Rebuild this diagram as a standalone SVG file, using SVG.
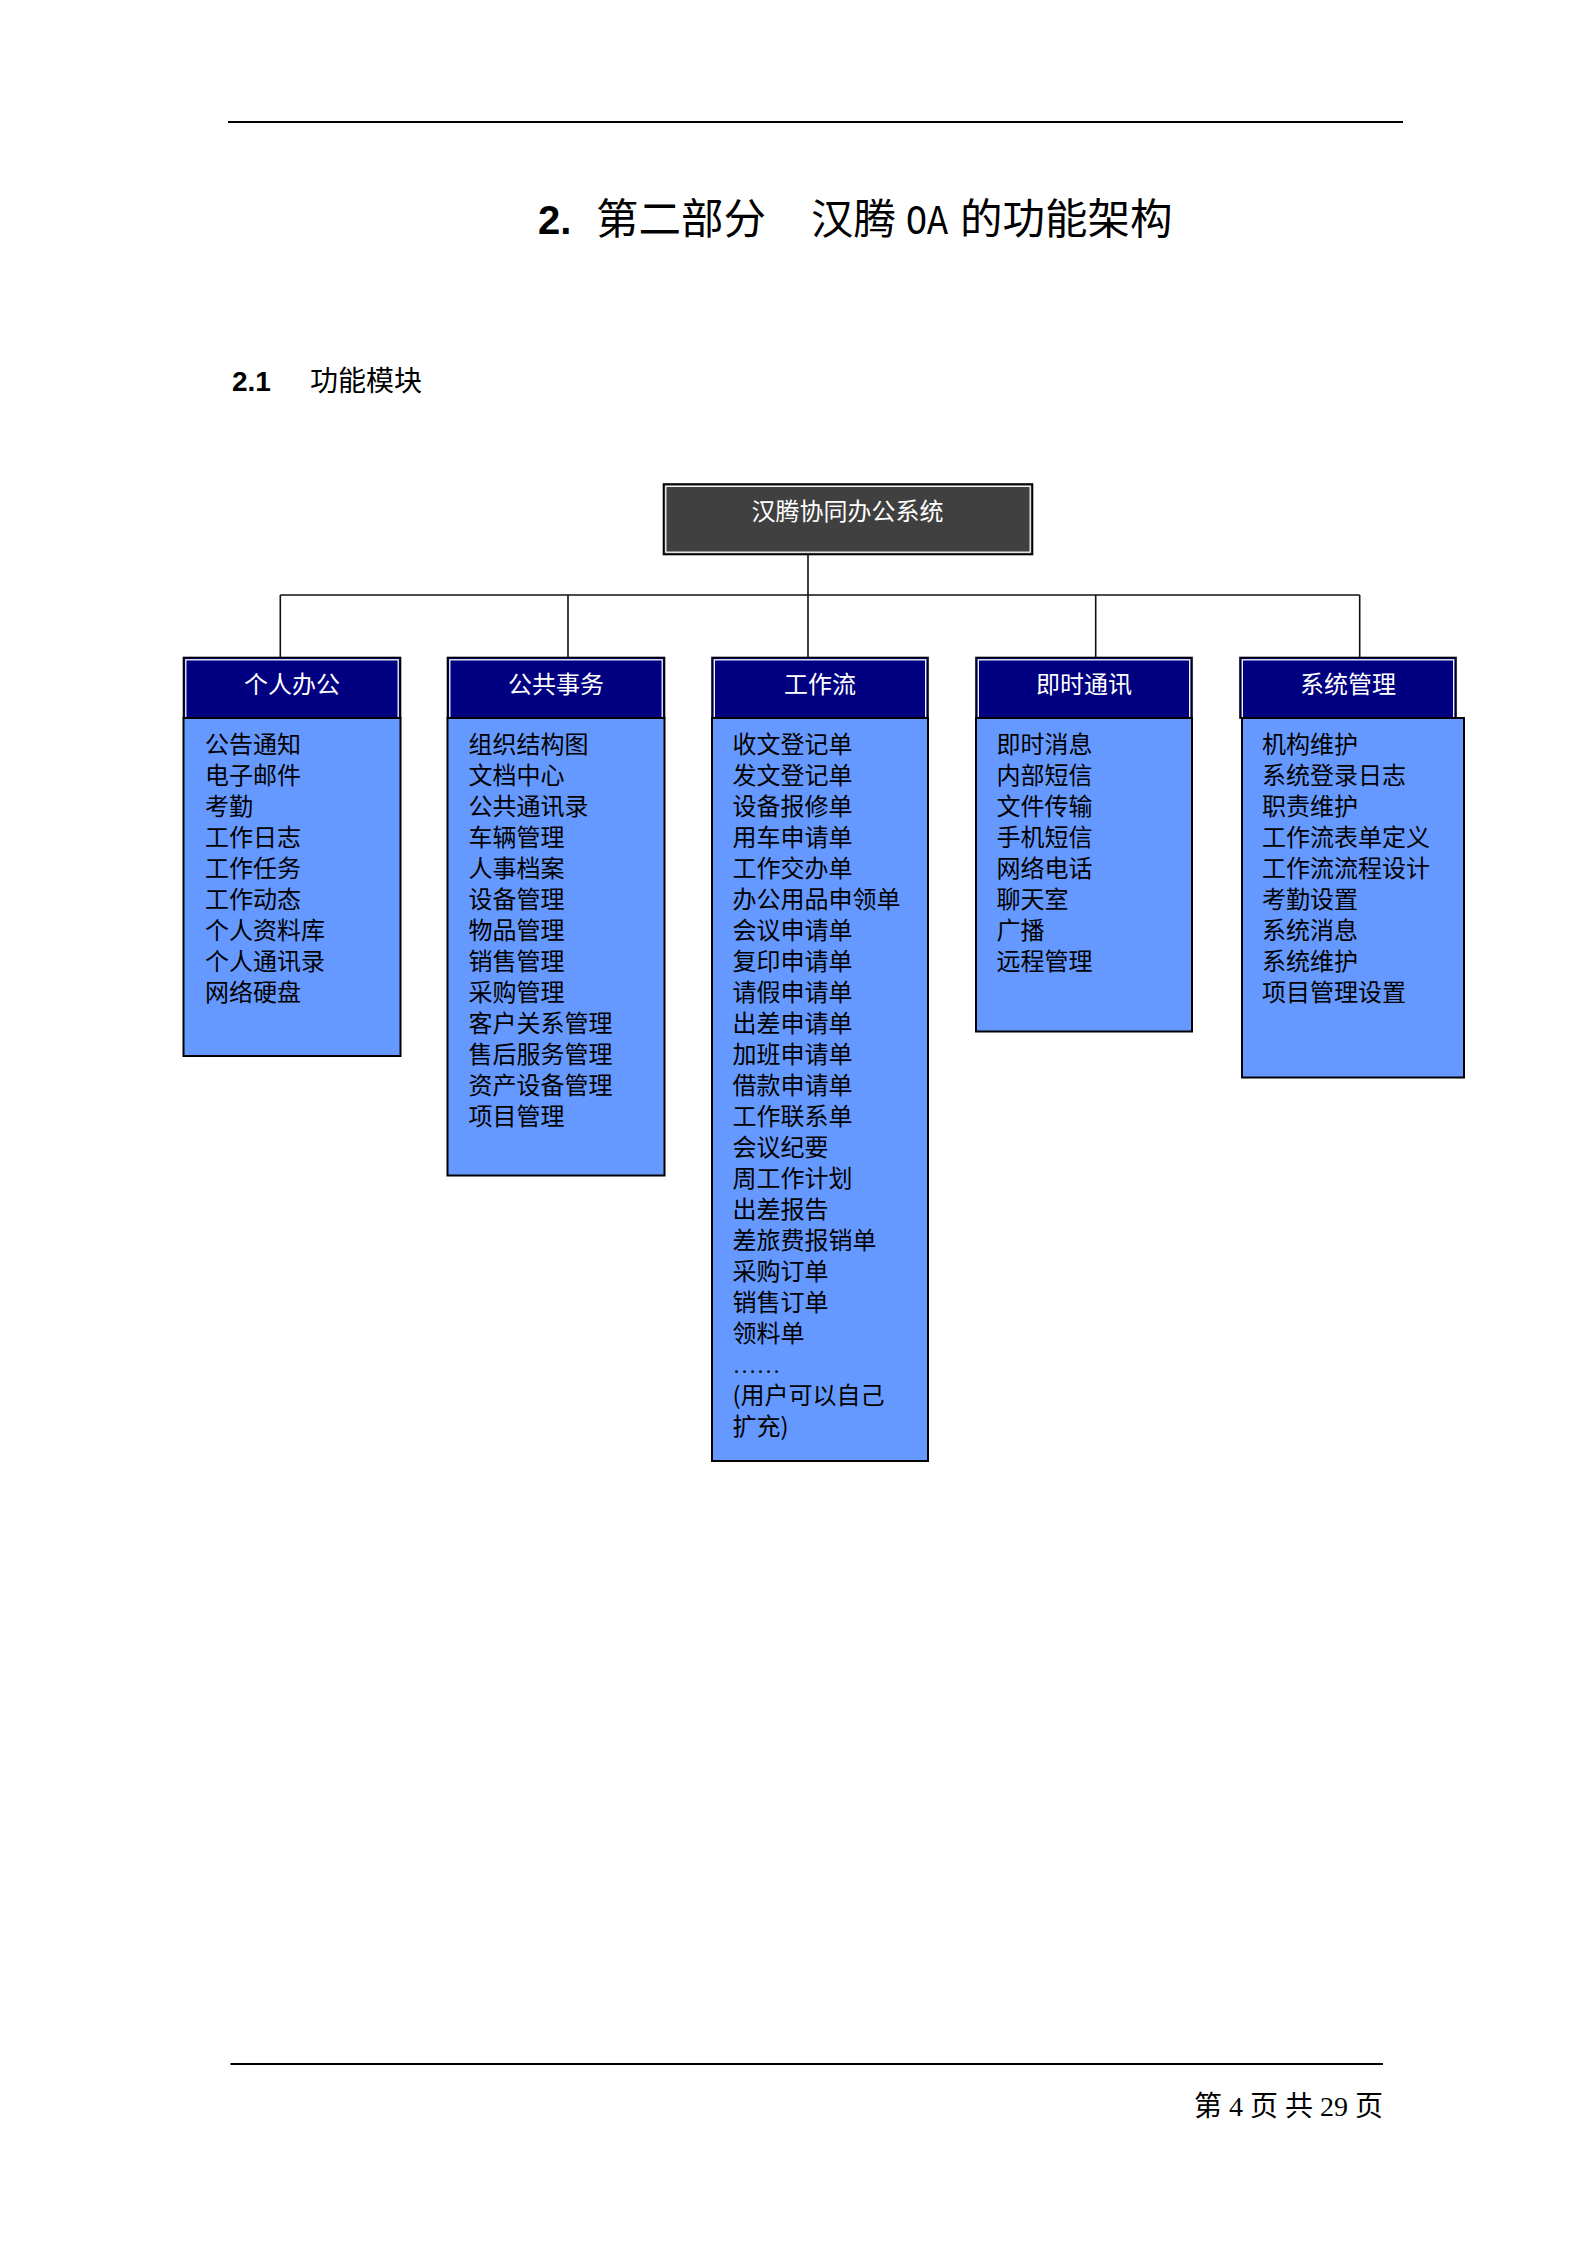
<svg xmlns="http://www.w3.org/2000/svg" width="1587" height="2245" viewBox="0 0 1587 2245">
<style>
.cjk{font-family:"Noto Sans CJK SC","Noto Sans",sans-serif;}
.hd{font-family:"Noto Sans CJK SC",sans-serif;font-size:24px;fill:#ffffff;text-anchor:middle;}
.item{font-family:"Noto Sans CJK SC",sans-serif;font-size:24px;fill:#000000;}
.hbox{fill:#000080;stroke:#000000;stroke-width:1.6;}
.hin{fill:none;stroke:#ffffff;stroke-width:1.3;}
.body{fill:#6699FF;stroke:#000000;stroke-width:2;}
.conn{stroke:#111111;stroke-width:1.6;fill:none;}
.rule{stroke:#000000;stroke-width:2;}
</style>

<g id="page-header">
<line class="rule" x1="228" y1="122" x2="1403" y2="122"/>
<text x="538" y="234" font-family="'Liberation Sans',sans-serif" font-weight="bold" font-size="40">2.</text>
<text class="cjk" x="596" y="234" font-size="42.5">第二部分</text>
<text class="cjk" x="811" y="234" font-size="42.5">汉腾</text>
<text x="906" y="234" font-family="'Liberation Mono',monospace" font-size="42" textLength="42" lengthAdjust="spacingAndGlyphs">OA</text>
<text class="cjk" x="960" y="234" font-size="42.5">的功能架构</text>
<text x="232" y="391" font-family="'Liberation Sans',sans-serif" font-weight="bold" font-size="28">2.1</text>
<text class="cjk" x="310" y="391" font-size="28">功能模块</text>
</g>

<g id="connectors">
<line class="conn" x1="808" y1="554" x2="808" y2="657.5"/>
<line class="conn" x1="280.3" y1="595" x2="1359.7" y2="595"/>
<line class="conn" x1="280.3" y1="595" x2="280.3" y2="657.5"/>
<line class="conn" x1="568" y1="595" x2="568" y2="657.5"/>
<line class="conn" x1="1095.7" y1="595" x2="1095.7" y2="657.5"/>
<line class="conn" x1="1359.7" y1="595" x2="1359.7" y2="657.5"/>
</g>

<g id="root">
<rect x="663.5" y="484" width="369" height="70.5" fill="#404040" stroke="#000000" stroke-width="1.6"/>
<rect x="665.8" y="486.3" width="364.4" height="65.9" fill="none" stroke="#ffffff" stroke-width="1.3"/>
<text class="hd" x="847.5" y="519.5">汉腾协同办公系统</text>
</g>

<g id="node-personal">
<rect class="hbox" x="183.5" y="657.5" width="217" height="60.5"/>
<rect class="hin" x="185.8" y="659.8" width="212.4" height="58"/>
<rect class="body" x="183.5" y="718" width="217" height="338"/>
<text class="hd" x="292" y="692.5">个人办公</text>
<text class="item" y="753"><tspan x="205">公告通知</tspan><tspan x="205" dy="31">电子邮件</tspan><tspan x="205" dy="31">考勤</tspan><tspan x="205" dy="31">工作日志</tspan><tspan x="205" dy="31">工作任务</tspan><tspan x="205" dy="31">工作动态</tspan><tspan x="205" dy="31">个人资料库</tspan><tspan x="205" dy="31">个人通讯录</tspan><tspan x="205" dy="31">网络硬盘</tspan></text>
</g>

<g id="node-public">
<rect class="hbox" x="447.5" y="657.5" width="217" height="60.5"/>
<rect class="hin" x="449.8" y="659.8" width="212.4" height="58"/>
<rect class="body" x="447.5" y="718" width="217" height="457.5"/>
<text class="hd" x="556" y="692.5">公共事务</text>
<text class="item" y="753"><tspan x="468.5">组织结构图</tspan><tspan x="468.5" dy="31">文档中心</tspan><tspan x="468.5" dy="31">公共通讯录</tspan><tspan x="468.5" dy="31">车辆管理</tspan><tspan x="468.5" dy="31">人事档案</tspan><tspan x="468.5" dy="31">设备管理</tspan><tspan x="468.5" dy="31">物品管理</tspan><tspan x="468.5" dy="31">销售管理</tspan><tspan x="468.5" dy="31">采购管理</tspan><tspan x="468.5" dy="31">客户关系管理</tspan><tspan x="468.5" dy="31">售后服务管理</tspan><tspan x="468.5" dy="31">资产设备管理</tspan><tspan x="468.5" dy="31">项目管理</tspan></text>
</g>

<g id="node-workflow">
<rect class="hbox" x="712" y="657.5" width="216" height="60.5"/>
<rect class="hin" x="714.3" y="659.8" width="211.4" height="58"/>
<rect class="body" x="712" y="718" width="216" height="743"/>
<text class="hd" x="820" y="692.5">工作流</text>
<text class="item" y="753"><tspan x="732.5">收文登记单</tspan><tspan x="732.5" dy="31">发文登记单</tspan><tspan x="732.5" dy="31">设备报修单</tspan><tspan x="732.5" dy="31">用车申请单</tspan><tspan x="732.5" dy="31">工作交办单</tspan><tspan x="732.5" dy="31">办公用品申领单</tspan><tspan x="732.5" dy="31">会议申请单</tspan><tspan x="732.5" dy="31">复印申请单</tspan><tspan x="732.5" dy="31">请假申请单</tspan><tspan x="732.5" dy="31">出差申请单</tspan><tspan x="732.5" dy="31">加班申请单</tspan><tspan x="732.5" dy="31">借款申请单</tspan><tspan x="732.5" dy="31">工作联系单</tspan><tspan x="732.5" dy="31">会议纪要</tspan><tspan x="732.5" dy="31">周工作计划</tspan><tspan x="732.5" dy="31">出差报告</tspan><tspan x="732.5" dy="31">差旅费报销单</tspan><tspan x="732.5" dy="31">采购订单</tspan><tspan x="732.5" dy="31">销售订单</tspan><tspan x="732.5" dy="31">领料单</tspan><tspan x="732.5" dy="31" font-family="'Liberation Serif',serif">……</tspan><tspan x="732.5" dy="31">(用户可以自己</tspan><tspan x="732.5" dy="31">扩充)</tspan></text>
</g>

<g id="node-im">
<rect class="hbox" x="976" y="657.5" width="216" height="60.5"/>
<rect class="hin" x="978.3" y="659.8" width="211.4" height="58"/>
<rect class="body" x="976" y="718" width="216" height="313.5"/>
<text class="hd" x="1084" y="692.5">即时通讯</text>
<text class="item" y="753"><tspan x="996.5">即时消息</tspan><tspan x="996.5" dy="31">内部短信</tspan><tspan x="996.5" dy="31">文件传输</tspan><tspan x="996.5" dy="31">手机短信</tspan><tspan x="996.5" dy="31">网络电话</tspan><tspan x="996.5" dy="31">聊天室</tspan><tspan x="996.5" dy="31">广播</tspan><tspan x="996.5" dy="31">远程管理</tspan></text>
</g>

<g id="node-sysadmin">
<rect class="hbox" x="1240" y="657.5" width="216" height="60.5"/>
<rect class="hin" x="1242.3" y="659.8" width="211.4" height="58"/>
<rect class="body" x="1242" y="718" width="222" height="359.5"/>
<text class="hd" x="1348" y="692.5">系统管理</text>
<text class="item" y="753"><tspan x="1262">机构维护</tspan><tspan x="1262" dy="31">系统登录日志</tspan><tspan x="1262" dy="31">职责维护</tspan><tspan x="1262" dy="31">工作流表单定义</tspan><tspan x="1262" dy="31">工作流流程设计</tspan><tspan x="1262" dy="31">考勤设置</tspan><tspan x="1262" dy="31">系统消息</tspan><tspan x="1262" dy="31">系统维护</tspan><tspan x="1262" dy="31">项目管理设置</tspan></text>
</g>

<g id="page-footer">
<line class="rule" x1="230.5" y1="2064" x2="1383" y2="2064"/>
<text x="1383" y="2116" text-anchor="end" font-family="'Liberation Serif','Noto Sans CJK SC',serif" font-size="28">第 4 页 共 29 页</text>
</g>
</svg>
